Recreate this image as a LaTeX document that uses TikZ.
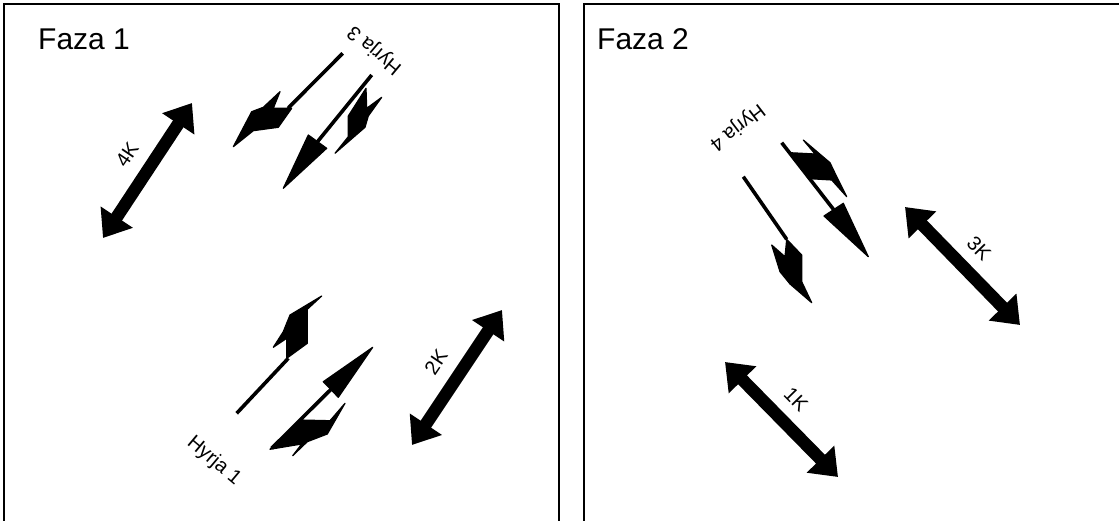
\documentclass[tikz,border=0pt]{standalone}
\usepackage{fontspec}
\setmainfont{Liberation Sans}
\usetikzlibrary{arrows.meta}
\begin{document}
\begin{tikzpicture}[x=1pt,y=-1pt,
  frame/.style={line width=1.3pt,black},
  bigarrow/.style={line width=12.5pt,
    {Triangle[length=25pt,width=37pt]}-{Triangle[length=25pt,width=37pt]}},
  laneline/.style={line width=3.6pt},
  lanefill/.style={fill=black,draw=black,line width=1.2pt,line join=round},
  lbl/.style={font=\fontsize{20}{20}\selectfont,inner sep=0pt},
  title/.style={font=\fontsize{30}{30}\selectfont,anchor=base west,inner sep=0pt}]
\useasboundingbox (0,0) rectangle (1119,521);
\clip (0,0) rectangle (1119,521);

% panel frames (open at the bottom)
\draw[frame] (4,530) -- (4,4) -- (559,4) -- (559,530);
\draw[frame] (584,530) -- (584,4) -- (1125,4);

\node[title] (f1) at (38,50) {Faza 1};
\node[title] (f2) at (597,50) {Faza 2};

% ---------- Faza 1: two-way flows ----------
\coordinate (k4a) at (103,238); \coordinate (k4b) at (192,103);
\draw[bigarrow] (k4a) -- (k4b);
\node[lbl,rotate=56] (l4k) at (127,155) {4K};

\coordinate (k2a) at (412,445); \coordinate (k2b) at (502,310);
\draw[bigarrow] (k2a) -- (k2b);
\node[lbl,rotate=56] (l2k) at (436,362) {2K};

% ---------- Faza 1: entry 3 (upper pair) ----------
\coordinate (a1s) at (342.7,53.3); \coordinate (a1e) at (288,108.3);
\draw[laneline] (a1s) -- (a1e);
\filldraw[lanefill] (251.7,111.7) -- (263.3,107.3) -- (280,91.7) -- (273.3,108.3)
  -- (291.7,108.3) -- (278.3,127.3) -- (253.3,130.7) -- (233.3,146.7) -- cycle;

\coordinate (a2s) at (371.7,75); \coordinate (a2e) at (317.5,141.7);
\draw[laneline] (a2s) -- (a2e);
\filldraw[lanefill] (283.3,188.3) -- (308.3,135) -- (326.7,148.3) -- cycle;
\filldraw[lanefill] (366,88.3) -- (348.3,116) -- (348.3,136.7) -- (335,153.3)
  -- (365,127.3) -- (368.3,116) -- (381.7,97.3) -- (366.7,108.3) -- cycle;

\node[lbl,rotate=140] (h3) at (375,50) {Hyrja 3};

% ---------- Faza 1: entry 1 (lower pair) ----------
\coordinate (b1s) at (236.7,413.3); \coordinate (b1e) at (288.3,358.3);
\draw[laneline] (b1s) -- (b1e);
\filldraw[lanefill] (321.7,296) -- (290,315) -- (283.3,331.7) -- (273.3,347.3)
  -- (286.7,338.3) -- (286.7,358.3) -- (307.3,343.3) -- (307.3,309.3) -- cycle;

\coordinate (b2s) at (271.7,448.3); \coordinate (b2e) at (330.8,389.5);
\draw[laneline] (b2s) -- (b2e);
\filldraw[lanefill] (372.7,347.3) -- (323.3,381.7) -- (338.3,397.3) -- cycle;
\filldraw[lanefill] (300,420) -- (330,420.7) -- (345,403.3) -- (327.3,434)
  -- (307.3,441.7) -- (292.7,455.7) -- (301.7,444) -- (270,449.3) -- cycle;

\node[lbl,rotate=-40] (h1) at (214,461) {Hyrja 1};

% ---------- Faza 2: two-way flows ----------
\coordinate (k3a) at (905,207); \coordinate (k3b) at (1020,325);
\draw[bigarrow] (k3a) -- (k3b);
\node[lbl,rotate=-45.7] (l3k) at (979,248) {3K};

\coordinate (k1a) at (725,362); \coordinate (k1b) at (838,477);
\draw[bigarrow] (k1a) -- (k1b);
\node[lbl,rotate=-45.5] (l1k) at (796,399) {1K};

% ---------- Faza 2: entry 4 ----------
\coordinate (c1s) at (743.3,176.7); \coordinate (c1e) at (786.7,239.3);
\draw[laneline] (c1s) -- (c1e);
\filldraw[lanefill] (786.7,239.3) -- (801.7,255) -- (801.7,281.7) -- (811.7,302.7)
  -- (790,284) -- (780,271.7) -- (771.7,245) -- (785,256.7) -- cycle;

\coordinate (c2s) at (781.7,142.7); \coordinate (c2e) at (833.7,209.7);
\draw[laneline] (c2s) -- (c2e);
\filldraw[lanefill] (868.3,256.7) -- (824,216) -- (843.3,203.3) -- cycle;
\filldraw[lanefill] (790,152.7) -- (815,154) -- (803.3,140) -- (830,162.7)
  -- (836.7,176.7) -- (846.7,196.7) -- (831.7,180) -- (810,178.7) -- cycle;

\node[lbl,rotate=217.5] (h4) at (737,127) {Hyrja 4};
\end{tikzpicture}
\end{document}
